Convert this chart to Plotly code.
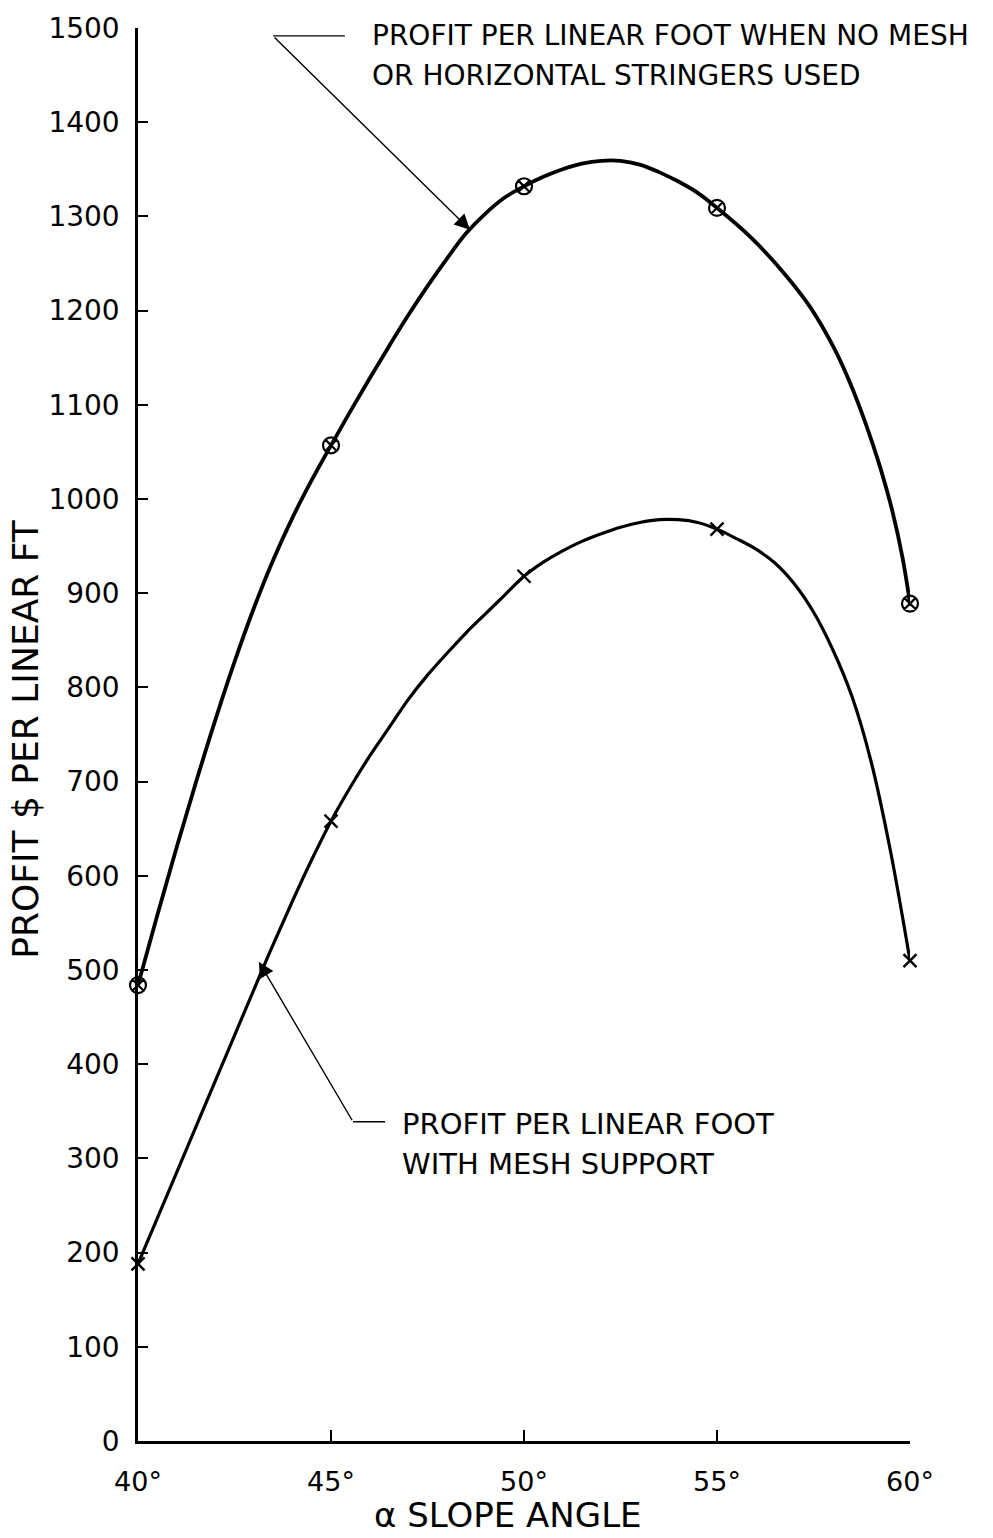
import plotly.graph_objects as go

# ---- data ----
angles = [40, 45, 50, 55, 60]
profit_no_mesh = [484, 1057, 1332, 1309, 889]
profit_mesh = [188, 658, 918, 968, 510]

# points
no_mesh_curve_x = [40.0, 40.5, 41.0, 41.5, 42.0, 42.5, 43.0, 43.5, 44.0, 44.5, 45.0,
                   45.5, 46.0, 46.5, 47.0, 47.5, 48.0, 48.5, 49.0, 49.5, 50.0,
                   50.5, 51.0, 51.5, 52.0, 52.5, 53.0, 53.5, 54.0, 54.5, 55.0,
                   55.87, 56.73, 57.41, 58.01, 58.44, 58.87, 59.21, 59.55, 59.81, 60.0]
no_mesh_curve_y = [484, 558, 630, 699, 765, 827, 884, 935, 980, 1020, 1057,
                   1093, 1128, 1162, 1195, 1226, 1255, 1282, 1303, 1320, 1332,
                   1342, 1350, 1356, 1359, 1359, 1355, 1347, 1337, 1325, 1309,
                   1278, 1240, 1204, 1162, 1124, 1078, 1036, 986, 937, 889]

mesh_curve_x = [40.0, 41.0, 42.0, 43.0, 43.5, 44.0, 44.5, 45.0,
                45.5, 46.0, 46.5, 47.0, 47.5, 48.0, 48.5, 49.0, 49.5, 50.0,
                50.5, 51.0, 51.5, 52.0, 52.5, 53.0, 53.5, 54.0, 54.5, 55.0,
                55.5, 56.0, 56.5, 57.0, 57.5, 58.0, 58.5, 59.0, 59.5, 60.0]
mesh_curve_y = [188, 285, 382, 479, 527, 573, 617, 658,
                694, 727, 757, 787, 813, 836, 858, 878, 898, 918,
                933, 945, 955, 963, 970, 975, 978, 978, 975, 968,
                958, 947, 932, 910, 880, 840, 790, 720, 625, 510]

x_tick_vals = [40, 45, 50, 55, 60]
x_tick_text = ["40°", "45°", "50°", "55°", "60°"]
y_tick_vals = list(range(0, 1501, 100))

label_no_mesh = ["PROFIT PER LINEAR FOOT WHEN NO MESH", "OR HORIZONTAL STRINGERS USED"]
label_mesh = ["PROFIT PER LINEAR FOOT", "WITH MESH SUPPORT"]

FONT = "DejaVu Sans"
INK = "black"

fig = go.Figure()

fig.add_trace(go.Scatter(x=no_mesh_curve_x, y=no_mesh_curve_y, mode="lines",
                         line=dict(color=INK, width=3.8, shape="spline", smoothing=1.0),
                         hoverinfo="skip", showlegend=False))
fig.add_trace(go.Scatter(x=mesh_curve_x, y=mesh_curve_y, mode="lines",
                         line=dict(color=INK, width=3.2, shape="spline", smoothing=1.0),
                         hoverinfo="skip", showlegend=False))
fig.add_trace(go.Scatter(x=angles, y=profit_no_mesh, mode="markers",
                         marker=dict(symbol="circle-x-open", size=16, color=INK,
                                     line=dict(width=2.2, color=INK)),
                         cliponaxis=False, showlegend=False))
fig.add_trace(go.Scatter(x=angles, y=profit_mesh, mode="markers",
                         marker=dict(symbol="x-thin-open", size=13, color=INK,
                                     line=dict(width=2.4, color=INK)),
                         cliponaxis=False, showlegend=False))

# leader lines (horizontal parts)
fig.add_shape(type="line", xref="x", yref="y", x0=43.5, y0=1491.6, x1=45.36, y1=1491.6,
              line=dict(color=INK, width=1.4))
fig.add_shape(type="line", xref="x", yref="y", x0=45.57, y0=338.9, x1=46.4, y1=338.9,
              line=dict(color=INK, width=1.4))

annotations = [
    # diagonal leaders with arrowheads
    dict(x=48.6, y=1285.8, ax=43.5, ay=1491.6, xref="x", yref="y", axref="x", ayref="y",
         text="", showarrow=True, arrowhead=2, arrowsize=2.2, arrowwidth=1.4,
         arrowcolor=INK, standoff=0, startstandoff=0),
    dict(x=43.13, y=508.8, ax=45.57, ay=338.9, xref="x", yref="y", axref="x", ayref="y",
         text="", showarrow=True, arrowhead=2, arrowsize=2.2, arrowwidth=1.4,
         arrowcolor=INK, standoff=0, startstandoff=0),
    # labels
    dict(x=46.0, y=1491.6, xref="x", yref="y", text=label_no_mesh[0], showarrow=False,
         xanchor="left", yanchor="middle", font=dict(family=FONT, size=28, color=INK)),
    dict(x=46.0, y=1449.4, xref="x", yref="y", text=label_no_mesh[1], showarrow=False,
         xanchor="left", yanchor="middle", font=dict(family=FONT, size=28, color=INK)),
    dict(x=46.79, y=336.7, xref="x", yref="y", text=label_mesh[0], showarrow=False,
         xanchor="left", yanchor="middle", font=dict(family=FONT, size=29, color=INK)),
    dict(x=46.79, y=294.5, xref="x", yref="y", text=label_mesh[1], showarrow=False,
         xanchor="left", yanchor="middle", font=dict(family=FONT, size=29, color=INK)),
    # axis titles
    dict(x=0.479, y=-0.0676, xref="paper", yref="paper", text="α SLOPE ANGLE",
         showarrow=False, xanchor="center", yanchor="bottom",
         font=dict(family=FONT, size=34, color=INK)),
    dict(x=-0.145, y=0.497, xref="paper", yref="paper", text="PROFIT $ PER LINEAR FT",
         showarrow=False, textangle=-90, xanchor="center", yanchor="middle",
         font=dict(family=FONT, size=36, color=INK)),
]

fig.update_layout(
    width=993, height=1538,
    margin=dict(l=138, r=83, t=20, b=97),
    paper_bgcolor="white", plot_bgcolor="white",
    annotations=annotations,
    showlegend=False,
)
fig.update_xaxes(range=[40, 60], tickvals=x_tick_vals, ticktext=x_tick_text,
                 showgrid=False, zeroline=False, showline=True, linecolor=INK, linewidth=2.5,
                 ticks="inside", ticklen=11, tickwidth=2, tickcolor=INK,
                 ticklabelstandoff=15,
                 tickfont=dict(family=FONT, size=27, color=INK))
fig.update_yaxes(range=[0, 1500], tickvals=y_tick_vals,
                 showgrid=False, zeroline=False, showline=True, linecolor=INK, linewidth=2.5,
                 ticks="inside", ticklen=10, tickwidth=2, tickcolor=INK,
                 ticklabelstandoff=10,
                 tickfont=dict(family=FONT, size=28, color=INK))

# remove the page's default 8px body margin so the figure fills the window exactly
fig.write_html("out.html", config={"displayModeBar": False},
               post_script="document.body.style.margin='0';")
